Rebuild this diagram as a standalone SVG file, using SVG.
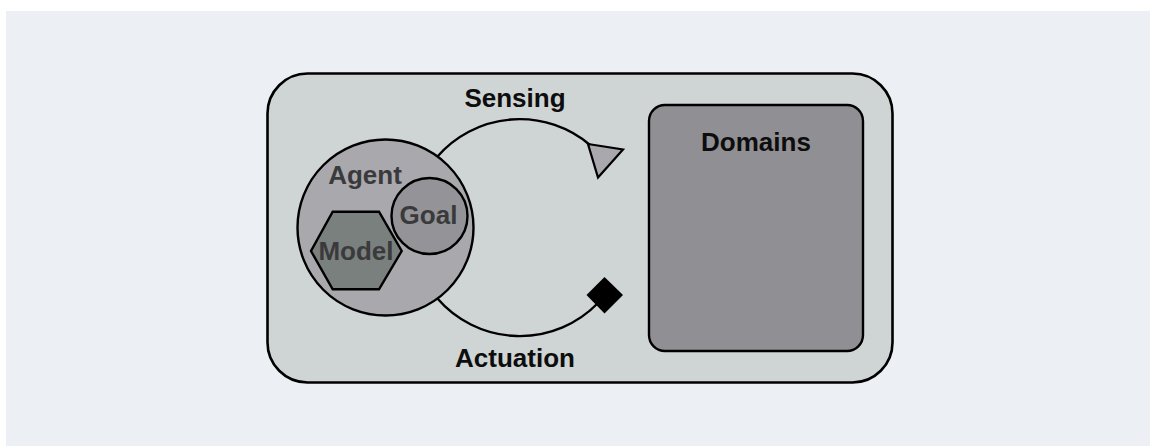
<svg xmlns="http://www.w3.org/2000/svg" width="1150" height="446" viewBox="0 0 1150 446">
  <style>
    .label { font-family: "Liberation Sans", Arial, sans-serif; font-weight: bold; font-size: 26px; text-anchor: middle; }
    .dark { fill: #0d0d0d; }
    .inner { fill: #3a3a3c; }
    .edge { fill: none; stroke: #000000; stroke-width: 2.4; }
    .shape { stroke: #000000; stroke-width: 2.4; }
  </style>
  <rect x="0" y="0" width="1150" height="446" fill="#ffffff"/>
  <rect x="6" y="11" width="1144" height="435" fill="#ecf0f4"/>

  <g id="system">
    <rect x="267.5" y="73.5" width="625" height="309" rx="40" ry="40" fill="#cfd4d4" stroke="#000000" stroke-width="2.6"/>
  </g>

  <g id="domains">
    <rect class="shape" x="649" y="105" width="214" height="246" rx="16" ry="16" fill="#908f93"/>
    <text class="label dark" x="756" y="151">Domains</text>
  </g>

  <g id="connectors">
    <g id="sensing">
      <path class="edge" d="M437,157 A109,109 0 0 1 590,145"/>
      <polygon points="588,144 623,149.5 598,177.5" fill="#a9a8ac" stroke="#000000" stroke-width="2.2" stroke-linejoin="miter"/>
      <text class="label dark" x="515" y="107">Sensing</text>
    </g>
    <g id="actuation">
      <path class="edge" d="M437,298 A109,109 0 0 0 598,303"/>
      <polygon points="604.5,277 623,295 604.5,313.5 586.5,295" fill="#000000"/>
      <text class="label dark" x="515" y="366.5">Actuation</text>
    </g>
  </g>

  <g id="agent">
    <circle class="shape" cx="385.5" cy="227.5" r="88" fill="#a9a8ac"/>
    <text class="label inner" x="365" y="183.5">Agent</text>
  </g>

  <g id="goal">
    <circle class="shape" cx="429.5" cy="216" r="38" fill="#949397"/>
    <text class="label inner" x="428.5" y="223.5">Goal</text>
  </g>

  <g id="model">
    <polygon class="shape" points="332.7,211.7 379,211.7 401.7,251 379,289.3 332.7,289.3 311,251" fill="#7a807e"/>
    <text class="label inner" x="356" y="260">Model</text>
  </g>
</svg>
